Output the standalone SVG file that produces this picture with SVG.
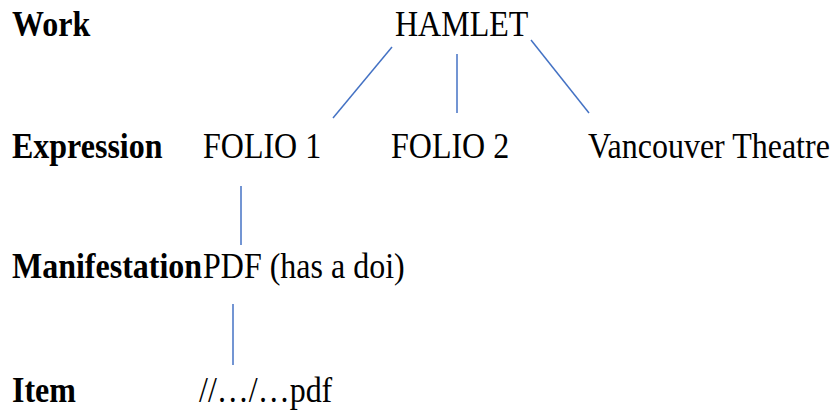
<svg xmlns="http://www.w3.org/2000/svg" width="835" height="411" viewBox="0 0 835 411">
  <style>
    .lvl { font-family: "Liberation Serif", "Times New Roman", serif; font-size: 32px; font-weight: bold; fill: #000; }
    .node { font-family: "Liberation Serif", "Times New Roman", serif; font-size: 32px; fill: #000; }
    .link { stroke: #4472C4; stroke-width: 1.5; fill: none; }
  </style>
  <rect width="835" height="411" fill="#fff"/>

  <!-- level labels (type is set slightly tall: scaled 1.1 vertically) -->
  <g id="levels">
    <text class="lvl" transform="translate(12 36) scale(1 1.1)">Work</text>
    <text class="lvl" transform="translate(12 158) scale(1 1.1)">Expression</text>
    <text class="lvl" transform="translate(12 278) scale(1 1.1)">Manifestation</text>
    <text class="lvl" transform="translate(12 402) scale(1 1.1)">Item</text>
  </g>

  <g id="hamlet"><text class="node" transform="translate(395 36) scale(1 1.1)">HAMLET</text></g>
  <g id="folio1"><text class="node" transform="translate(203 158) scale(1 1.1)">FOLIO 1</text></g>
  <g id="folio2"><text class="node" transform="translate(391 158) scale(1 1.1)">FOLIO 2</text></g>
  <g id="vancouver"><text class="node" transform="translate(588 158) scale(1 1.1)">Vancouver Theatre</text></g>
  <g id="pdf"><text class="node" transform="translate(203 278) scale(1 1.1)">PDF (has a doi)</text></g>
  <g id="item"><text class="node" transform="translate(199 402) scale(1 1.1)">//…/…pdf</text></g>

  <g id="connectors">
    <line class="link" x1="392" y1="47" x2="333" y2="118"/>
    <line class="link" x1="457" y1="54" x2="457" y2="113"/>
    <line class="link" x1="531" y1="40" x2="589" y2="113"/>
    <line class="link" x1="241" y1="186" x2="241" y2="245"/>
    <line class="link" x1="233" y1="304" x2="233" y2="365" stroke-width="2"/>
  </g>
</svg>
